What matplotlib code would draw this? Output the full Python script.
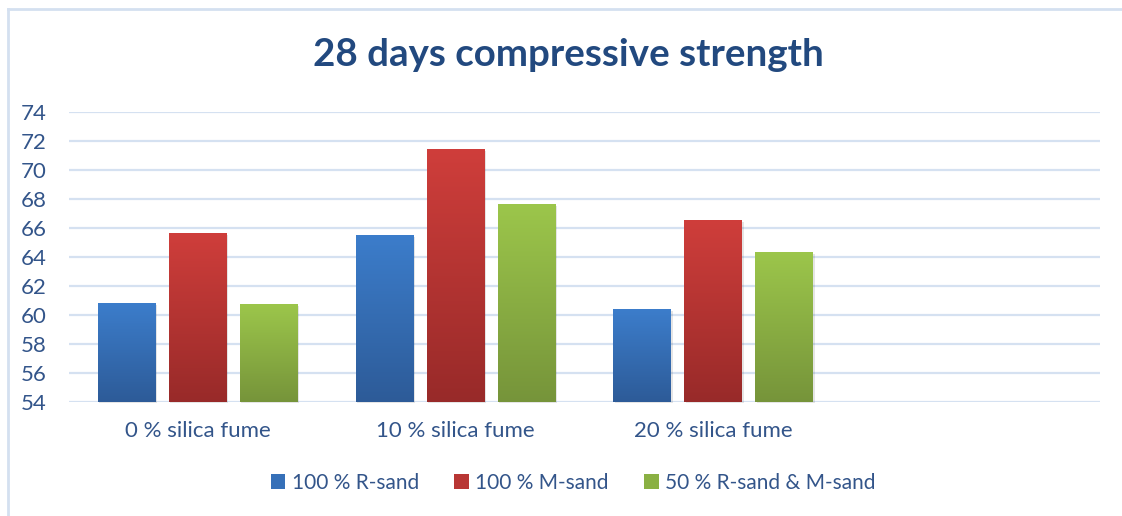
import numpy as np
import matplotlib
matplotlib.use("Agg")
import matplotlib.pyplot as plt
from matplotlib.lines import Line2D
from matplotlib.patches import Rectangle, Patch
import matplotlib.colors as mcolors
from matplotlib import font_manager

categories = ["0 % silica fume", "10 % silica fume", "20 % silica fume", ""]
series_names = ["100 % R-sand", "100 % M-sand", "50 % R-sand & M-sand"]
r_sand = [60.8, 65.5, 60.4]
m_sand = [65.6, 71.4, 66.5]
rm_sand = [60.7, 67.6, 64.3]
yticks = [54, 56, 58, 60, 62, 64, 66, 68, 70, 72, 74]
title = "28 days compressive strength"

series = [r_sand, m_sand, rm_sand]
grad_top = ["#3C7DCB", "#CF3E3B", "#9CC64B"]
grad_bot = ["#2D5B98", "#982A29", "#76943A"]
legend_col = ["#3670B8", "#B83634", "#8AB043"]

names = {f.name for f in font_manager.fontManager.ttflist}
body_font = "Lato" if "Lato" in names else "DejaVu Sans"

text_col = "#33558A"
grid_col = "#D5E1F1"

W, H = 1122, 516
fig = plt.figure(figsize=(W / 100, H / 100), dpi=100)
ax = fig.add_axes([69 / W, 114.3 / H, 1031 / W, 290 / H])

x = np.arange(len(categories))
width = 0.225
step = 0.2755
ymin, ymax = yticks[0], yticks[-1]

for i, vals in enumerate(series):
    off = (i - 1) * step
    for j, v in enumerate(vals):
        x0 = x[j] + off - width / 2
        ax.add_patch(Rectangle((x0 + 0.006, ymin - 0.12), width, v - ymin,
                               facecolor="black", alpha=0.10, edgecolor="none",
                               zorder=2, clip_on=False))
        cmap = mcolors.LinearSegmentedColormap.from_list("g", [grad_bot[i], grad_top[i]])
        grad = np.linspace(0, 1, 256).reshape(-1, 1)
        ax.imshow(grad, extent=(x0, x0 + width, ymin, v), origin="lower",
                  cmap=cmap, aspect="auto", zorder=3, interpolation="bilinear")

ax.set_xlim(-0.5, len(categories) - 0.5)
ax.set_ylim(ymin, ymax)
ax.set_aspect("auto")
ax.set_yticks(yticks)
ax.set_xticks(x[:3])
ax.set_xticklabels(categories[:3])
for s in ax.spines.values():
    s.set_visible(False)
ax.yaxis.grid(True, color=grid_col, linewidth=1.6, zorder=0)
ax.set_axisbelow(True)
ax.tick_params(axis="both", length=0, labelsize=16, labelcolor=text_col)
ax.tick_params(axis="x", pad=14)
ax.tick_params(axis="y", pad=16)
for lab in ax.get_xticklabels() + ax.get_yticklabels():
    lab.set_fontfamily(body_font)

fig.text(568 / W, 1 - 55 / H, title, ha="center", va="center", fontsize=27.7,
         fontweight="bold", color="#22497F", family=body_font)

handles = [Patch(facecolor=c, edgecolor="none") for c in legend_col]
leg = fig.legend(handles, series_names, loc="center", bbox_to_anchor=(573 / W, 1 - 483 / H),
                 ncol=3, frameon=False, handlelength=0.7, handleheight=0.7,
                 handletextpad=0.3, columnspacing=1.7,
                 prop={"family": body_font, "size": 15})
for t in leg.get_texts():
    t.set_color(text_col)

fig.add_artist(Line2D([7.5 / W, 7.5 / W], [0, 1 - 9 / H], color="#D4E0F0", linewidth=2))
fig.add_artist(Line2D([7.5 / W, 1], [1 - 9 / H, 1 - 9 / H], color="#D4E0F0", linewidth=2))

fig.savefig("out.png", dpi=100, facecolor="white")
